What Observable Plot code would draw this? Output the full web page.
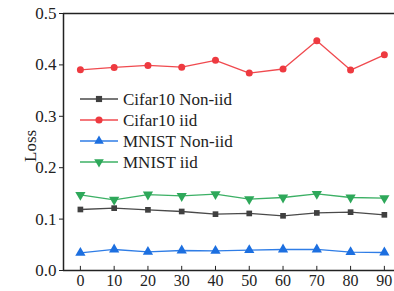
<!DOCTYPE html>
<html><head><meta charset="utf-8">
<script src="https://cdn.jsdelivr.net/npm/d3@7"></script>
<script src="https://cdn.jsdelivr.net/npm/@observablehq/plot@0.6"></script>
<style>
body{margin:0;background:#fff;}
#wrap{position:relative;width:394px;height:291px;font-family:"Liberation Serif","Times New Roman",Times,serif;}
#wrap svg text{font-family:"Liberation Serif","Times New Roman",Times,serif;}
#legend{position:absolute;left:0;top:0;}
</style>
</head><body>
<div id="wrap"></div>
<script>
const xs = [0,10,20,30,40,50,60,70,80,90];
const seriesNames = ["Cifar10 Non-iid","Cifar10 iid","MNIST Non-iid","MNIST iid"];
const cifarNonIid = [0.1187,0.1213,0.118,0.1148,0.1096,0.111,0.1064,0.112,0.1135,0.1083];
const cifarIid    = [0.3905,0.395,0.399,0.3956,0.409,0.384,0.392,0.447,0.390,0.4196];
const mnistNonIid = [0.0344,0.0409,0.0363,0.0389,0.0383,0.0396,0.0409,0.0409,0.0357,0.035];
const mnistIid    = [0.147,0.1375,0.1478,0.145,0.1485,0.1388,0.142,0.149,0.142,0.1407];
const yTicks = [0,0.1,0.2,0.3,0.4,0.5];
const xTicks = xs;

const triDown = {draw(ctx, size){
  const s3 = Math.sqrt(3);
  const y = -Math.sqrt(size/(s3*3));
  ctx.moveTo(0, -y*2); ctx.lineTo(-s3*y, y); ctx.lineTo(s3*y, y); ctx.closePath();
}};
const styles = [
  {values: cifarNonIid, line:"#4a4a4a", fill:"#404040", symbol:"square", r:3.2},
  {values: cifarIid, line:"#f04a4f", fill:"#ee3a40", symbol:"circle", r:3.5},
  {values: mnistNonIid, line:"#2f7de6", fill:"#1c6fe0", symbol:"triangle", r:3.8},
  {values: mnistIid, line:"#3cb065", fill:"#2ea85a", symbol:triDown, r:3.8}
];

const marks = [];
styles.forEach((s,i)=>{
  const data = xs.map((x,j)=>({x, y:s.values[j]}));
  marks.push(Plot.line(data,{x:"x",y:"y",stroke:s.line,strokeWidth:1.3}));
  marks.push(Plot.dot(data,{x:"x",y:"y",fill:s.fill,stroke:"none",symbol:()=>s.symbol,r:s.r}));
});

const chart = Plot.plot({
  width:394, height:291,
  marginLeft:63, marginRight:0, marginTop:13, marginBottom:21,
  style:{fontFamily:"Liberation Serif, Times New Roman, serif", background:"#fff", color:"#222"},
  x:{domain:[-5,93]},
  y:{domain:[0,0.5]},
  marks:[
    Plot.axisY(yTicks,{tickSize:4, tickPadding:3, tickFormat:d3.format(".1f"), fontSize:17, label:null, stroke:"#222", fill:"#222"}),
    Plot.axisX(xTicks,{tickSize:0, tickPadding:4, fontSize:16, label:null, fill:"#222"}),
    Plot.ruleX(xTicks,{x:d=>d, y1:0, y2:0.008, stroke:"#222", strokeWidth:1}),
    Plot.text(["Loss"],{frameAnchor:"left", dx:-33, dy:20, rotate:-90, fontSize:17, fill:"#222"}),
    ...marks,
    Plot.ruleY([0,0.5],{stroke:"#222", strokeWidth:1.5}),
    Plot.ruleX([-5],{stroke:"#222", strokeWidth:1.5})
  ]
});
document.getElementById("wrap").appendChild(chart);

// legend overlay
const svg = d3.select("#wrap").append("svg").attr("id","legend").attr("width",394).attr("height",291);
const symMap = [d3.symbolSquare, d3.symbolCircle, d3.symbolTriangle, triDown];
const sizes = [38, 40, 40, 40];
seriesNames.forEach((name,i)=>{
  const yy = 99 + i*21;
  const g = svg.append("g");
  g.append("line").attr("x1",80).attr("x2",118).attr("y1",yy).attr("y2",yy).attr("stroke",styles[i].line).attr("stroke-width",1.3);
  g.append("path").attr("d",d3.symbol(symMap[i], sizes[i])()).attr("transform",`translate(99,${yy})`).attr("fill",styles[i].fill);
  g.append("text").attr("x",123).attr("y",yy).attr("dy","0.35em").attr("font-size",17).attr("fill","#222").text(name);
});
</script>
</body></html>
